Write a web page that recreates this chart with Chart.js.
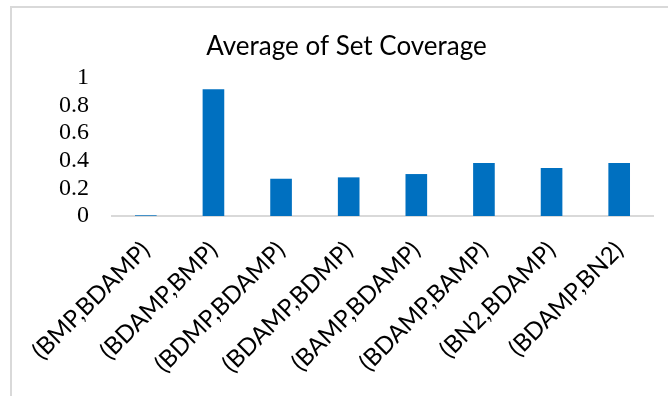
<!DOCTYPE html>
<html>
<head>
<meta charset="utf-8">
<script src="https://cdn.jsdelivr.net/npm/chart.js@4/dist/chart.umd.min.js"></script>
<style>
    html, body { margin: 0; padding: 0; background: #fff; overflow: hidden; }
    #wrap { position: relative; width: 668px; height: 396px; }
    #frame { position: absolute; left: 10px; top: 6px; width: 700px; height: 440px; border: 2px solid #d9d9d9; box-sizing: border-box; }
    #coverageChart { position: absolute; left: 0; top: 0; }
</style>
</head>
<body>
<div id="wrap">
    <div id="frame"></div>
    <canvas id="coverageChart" width="668" height="396"></canvas>
</div>
<script>
const pairs = ['(BMP,BDAMP)', '(BDAMP,BMP)', '(BDMP,BDAMP)', '(BDAMP,BDMP)', '(BAMP,BDAMP)', '(BDAMP,BAMP)', '(BN2,BDAMP)', '(BDAMP,BN2)'];
const avgCoverage = [0.005, 0.918, 0.27, 0.28, 0.304, 0.384, 0.348, 0.384];
const yTicks = [0, 0.2, 0.4, 0.6, 0.8, 1];

const ctx = document.getElementById('coverageChart').getContext('2d');
new Chart(ctx, {
    type: 'bar',
    data: {
        labels: pairs,
        datasets: [{
            label: 'Average of Set Coverage',
            data: avgCoverage,
            backgroundColor: '#0070c0',
            borderWidth: 0,
            barPercentage: 0.32,
            categoryPercentage: 1
        }]
    },
    options: {
        responsive: false,
        animation: false,
        // uneven side padding keeps the title centred over the plot, not the canvas
        layout: { padding: { left: 40, right: 15, top: 0, bottom: 0 } },
        plugins: {
            legend: { display: false },
            tooltip: { enabled: false },
            title: {
                display: true,
                text: 'Average of Set Coverage',
                color: '#000',
                font: { family: 'Lato', size: 26, weight: 'normal', lineHeight: 1.2 },
                padding: { top: 31, bottom: 15.8 }
            }
        },
        scales: {
            y: {
                min: 0,
                max: 1,
                afterBuildTicks: (scale) => { scale.ticks = yTicks.map(v => ({ value: v })); },
                afterFit: (scale) => { scale.width = 72; },
                grid: { display: false, drawTicks: false },
                border: { display: false },
                ticks: {
                    color: '#000',
                    autoSkip: false,
                    padding: 23,
                    font: { family: 'Liberation Serif', size: 24 },
                    callback: (v) => String(v)
                }
            },
            x: {
                afterFit: (scale) => { scale.height = 396 - 216; },
                grid: { display: false },
                border: { display: true, color: '#d9d9d9', width: 2 },
                ticks: {
                    color: '#000',
                    maxRotation: 45,
                    minRotation: 45,
                    autoSkip: false,
                    padding: 12,
                    font: { family: 'Lato', size: 24 }
                }
            }
        }
    }
});
</script>
</body>
</html>
